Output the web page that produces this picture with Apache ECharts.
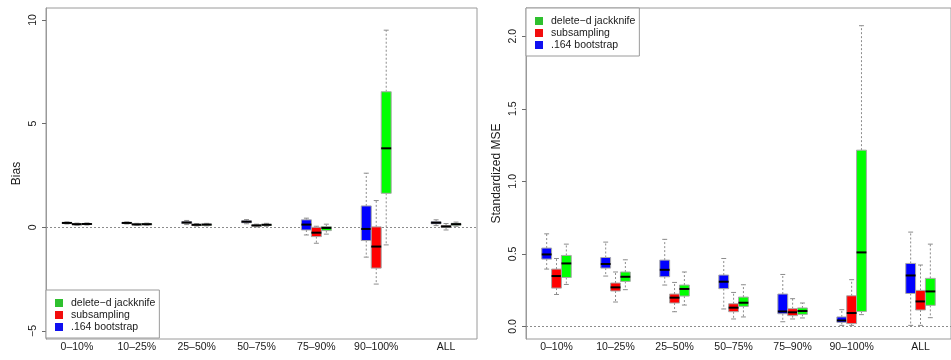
<!DOCTYPE html>
<html>
<head>
<meta charset="utf-8">
<script src="https://cdn.jsdelivr.net/npm/echarts@6/dist/echarts.min.js"></script>
<style>
  html, body { margin: 0; padding: 0; background: #fff; }
  #chart { width: 951px; height: 360px; }
</style>
</head>
<body>
<div id="chart"></div>
<script>
// Quantile groups shown on the x axis
const categories = ['0–10%', '10–25%', '25–50%', '50–75%', '75–90%', '90–100%', 'ALL'];

// Each entry: [lower whisker, Q1, median, Q3, upper whisker]
const biasBootstrap = [
  [0.16, 0.19, 0.21, 0.23, 0.26],
  [0.16, 0.19, 0.21, 0.23, 0.26],
  [0.13, 0.18, 0.23, 0.27, 0.33],
  [0.17, 0.22, 0.27, 0.31, 0.37],
  [-0.37, -0.13, 0.13, 0.36, 0.44],
  [-1.44, -0.64, -0.08, 1.03, 2.61],
  [0.08, 0.17, 0.22, 0.27, 0.36]
];
const biasSubsampling = [
  [0.10, 0.13, 0.15, 0.17, 0.20],
  [0.09, 0.12, 0.14, 0.16, 0.19],
  [0.06, 0.10, 0.12, 0.14, 0.18],
  [0.02, 0.06, 0.09, 0.11, 0.15],
  [-0.77, -0.45, -0.26, 0.00, 0.05],
  [-2.74, -1.97, -0.93, 0.02, 1.29],
  [-0.13, -0.01, 0.04, 0.08, 0.18]
];
const biasJackknife = [
  [0.11, 0.14, 0.16, 0.18, 0.21],
  [0.10, 0.13, 0.15, 0.17, 0.20],
  [0.07, 0.11, 0.13, 0.15, 0.19],
  [0.05, 0.09, 0.12, 0.14, 0.19],
  [-0.33, -0.16, -0.03, 0.03, 0.15],
  [-0.85, 1.64, 3.81, 6.54, 9.51],
  [0.05, 0.10, 0.15, 0.19, 0.25]
];

const mseBootstrap = [
  [0.395, 0.464, 0.496, 0.540, 0.638],
  [0.347, 0.402, 0.430, 0.475, 0.581],
  [0.285, 0.342, 0.390, 0.457, 0.600],
  [0.120, 0.260, 0.308, 0.354, 0.468],
  [0.032, 0.087, 0.103, 0.223, 0.358],
  [0.007, 0.028, 0.041, 0.065, 0.115],
  [0.007, 0.227, 0.351, 0.434, 0.650]
];
const mseSubsampling = [
  [0.220, 0.264, 0.347, 0.395, 0.468],
  [0.168, 0.244, 0.269, 0.299, 0.375],
  [0.101, 0.161, 0.198, 0.223, 0.303],
  [0.051, 0.101, 0.129, 0.156, 0.234],
  [0.051, 0.074, 0.097, 0.122, 0.191],
  [0.007, 0.019, 0.092, 0.211, 0.322],
  [0.007, 0.113, 0.172, 0.248, 0.423]
];
const mseJackknife = [
  [0.289, 0.337, 0.434, 0.489, 0.567],
  [0.253, 0.310, 0.342, 0.375, 0.459],
  [0.147, 0.209, 0.258, 0.285, 0.375],
  [0.065, 0.138, 0.163, 0.202, 0.287],
  [0.058, 0.083, 0.106, 0.127, 0.161],
  [0.081, 0.103, 0.510, 1.215, 2.073],
  [0.060, 0.145, 0.241, 0.331, 0.567]
];

const biasTicks = [-5, 0, 5, 10];
const mseTicks = [0, 0.5, 1.0, 1.5, 2.0];

const NAME_JACK = 'delete−d jackknife';
const NAME_SUB = 'subsampling';
const NAME_BOOT = '.164 bootstrap';

// Layout: boxes sit at unit positions, three per group, ALL set a little apart
const groupCenters = [2, 8, 14, 20, 26, 32, 39];
const X_MIN = -1.1, X_MAX = 42.1;
const FONT = 'Liberation Sans, Arial, Helvetica, sans-serif';
const TEXT_COLOR = '#1a1a1a';
const FRAME = '#9a9a9a';

function toSeriesData(values, offset) {
  return values.map((d, i) => [groupCenters[i] + offset].concat(d));
}

function renderBox(params, api) {
  const x = api.value(0);
  const lw = api.coord([x, api.value(1)]);
  const q1 = api.coord([x, api.value(2)]);
  const md = api.coord([x, api.value(3)]);
  const q3 = api.coord([x, api.value(4)]);
  const uw = api.coord([x, api.value(5)]);
  const half = api.size([1, 0])[0] / 2;
  const cap = half * 0.5;
  const cx = lw[0];
  const color = api.visual('color');
  const whisker = { stroke: '#8c8c8c', lineWidth: 1, lineDash: [2, 2] };
  const capStyle = { stroke: '#8c8c8c', lineWidth: 1 };
  return {
    type: 'group',
    children: [
      { type: 'line', shape: { x1: cx, y1: q3[1], x2: cx, y2: uw[1] }, style: whisker },
      { type: 'line', shape: { x1: cx, y1: q1[1], x2: cx, y2: lw[1] }, style: whisker },
      { type: 'line', shape: { x1: cx - cap, y1: uw[1], x2: cx + cap, y2: uw[1] }, style: capStyle },
      { type: 'line', shape: { x1: cx - cap, y1: lw[1], x2: cx + cap, y2: lw[1] }, style: capStyle },
      {
        type: 'rect',
        shape: { x: cx - half, y: q3[1], width: half * 2, height: Math.max(q1[1] - q3[1], 1) },
        style: { fill: color, stroke: '#a8a8a8', lineWidth: 1 }
      },
      { type: 'line', shape: { x1: cx - half, y1: md[1], x2: cx + half, y2: md[1] }, style: { stroke: '#000', lineWidth: 2 } }
    ]
  };
}

function boxSeries(name, values, offset, color, axisIndex, withZeroLine) {
  const s = {
    name: name,
    type: 'custom',
    xAxisIndex: axisIndex,
    yAxisIndex: axisIndex,
    renderItem: renderBox,
    itemStyle: { color: color },
    encode: { x: 0, y: [1, 2, 3, 4, 5] },
    data: toSeriesData(values, offset),
    z: 3
  };
  if (withZeroLine) {
    s.markLine = {
      silent: true,
      symbol: ['none', 'none'],
      label: { show: false },
      lineStyle: { color: '#8c8c8c', type: [2, 2], width: 1 },
      data: [{ yAxis: 0 }],
      z: 1
    };
  }
  return s;
}

function xAxisFor(gridIndex) {
  return {
    type: 'value',
    gridIndex: gridIndex,
    min: X_MIN,
    max: X_MAX,
    axisLine: { show: false, onZero: false },
    axisTick: { show: false },
    splitLine: { show: false },
    axisLabel: {
      customValues: groupCenters,
      formatter: v => categories[groupCenters.indexOf(v)] || '',
      color: TEXT_COLOR,
      fontFamily: FONT,
      fontSize: 10.5,
      margin: 3
    }
  };
}

function yAxisFor(gridIndex, name, min, max, ticks, fmt) {
  return {
    type: 'value',
    gridIndex: gridIndex,
    min: min,
    max: max,
    name: name,
    nameLocation: 'middle',
    nameGap: 23,
    nameTextStyle: { color: TEXT_COLOR, fontFamily: FONT, fontSize: 12 },
    axisLine: { show: true, onZero: false, lineStyle: { color: FRAME, width: 1 } },
    splitLine: { show: false },
    axisTick: { show: true, inside: false, customValues: ticks, length: 4, lineStyle: { color: '#6a6a6a' } },
    axisLabel: {
      customValues: ticks,
      rotate: 90,
      formatter: fmt,
      color: TEXT_COLOR,
      fontFamily: FONT,
      fontSize: 10.5,
      margin: 7
    }
  };
}

function legendAt(pos) {
  return Object.assign({
    orient: 'vertical',
    icon: 'rect',
    itemWidth: 8,
    itemHeight: 8,
    itemGap: 0,
    padding: [7, 4, 5, 9],
    borderColor: FRAME,
    borderWidth: 1,
    backgroundColor: '#fff',
    selectedMode: false,
    textStyle: { color: TEXT_COLOR, fontFamily: FONT, fontSize: 10.5, lineHeight: 12, padding: [0, 0, 0, 3] },
    data: [
      { name: NAME_JACK, itemStyle: { color: '#2ec02e' } },
      { name: NAME_SUB, itemStyle: { color: '#f20d0d' } },
      { name: NAME_BOOT, itemStyle: { color: '#1010f0' } }
    ],
    z: 10
  }, pos);
}

const chart = echarts.init(document.getElementById('chart'), null, { renderer: 'canvas' });
chart.setOption({
  animation: false,
  backgroundColor: '#fff',
  grid: [
    { left: 46, top: 8, width: 431, height: 331, show: true, borderColor: FRAME, borderWidth: 1, backgroundColor: 'transparent' },
    { left: 526, top: 8, width: 431, height: 331, show: true, borderColor: FRAME, borderWidth: 1, backgroundColor: 'transparent' }
  ],
  xAxis: [xAxisFor(0), xAxisFor(1)],
  yAxis: [
    yAxisFor(0, 'Bias', -5.39, 10.58, biasTicks, v => (v < 0 ? '−' + Math.abs(v) : String(v))),
    yAxisFor(1, 'Standardized MSE', -0.087, 2.195, mseTicks, v => v.toFixed(1))
  ],
  legend: [
    legendAt({ left: 46, top: 290 }),
    legendAt({ left: 526, top: 8 })
  ],
  series: [
    boxSeries(NAME_BOOT, biasBootstrap, -1, '#0000ff', 0, true),
    boxSeries(NAME_SUB, biasSubsampling, 0, '#ff0000', 0, false),
    boxSeries(NAME_JACK, biasJackknife, 1, '#00ff00', 0, false),
    boxSeries(NAME_BOOT, mseBootstrap, -1, '#0000ff', 1, true),
    boxSeries(NAME_SUB, mseSubsampling, 0, '#ff0000', 1, false),
    boxSeries(NAME_JACK, mseJackknife, 1, '#00ff00', 1, false)
  ]
});
</script>
</body>
</html>
